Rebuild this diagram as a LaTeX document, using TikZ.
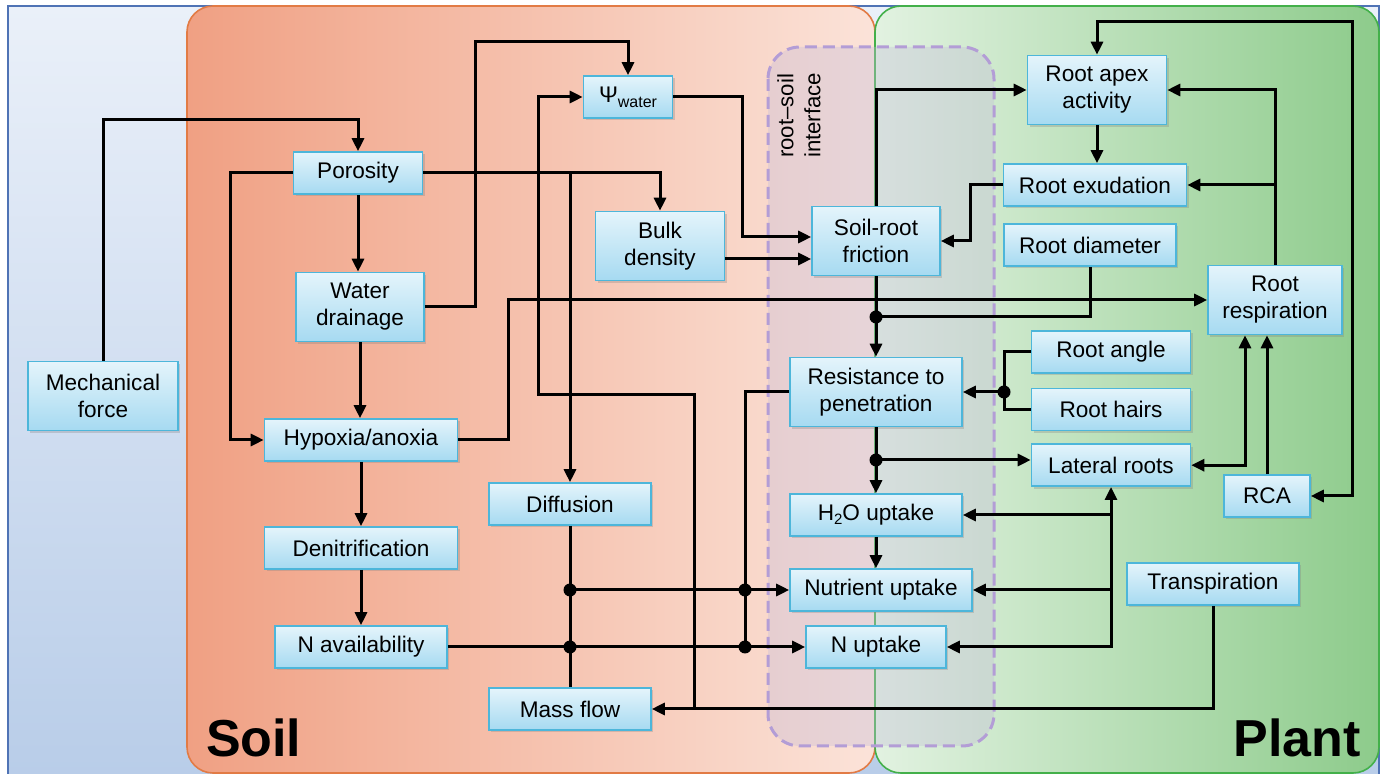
\documentclass[tikz,border=0pt]{standalone}
\usepackage{fontspec}
\setmainfont{Liberation Sans}
\usetikzlibrary{arrows.meta, positioning, shadows}
\definecolor{boxtop}{HTML}{E4F4FB}
\definecolor{boxbot}{HTML}{A6DAF1}
\definecolor{boxline}{HTML}{4DB6DA}
\definecolor{bgtop}{HTML}{EAF0F9}
\definecolor{bgbot}{HTML}{B7CCE8}
\definecolor{bgline}{HTML}{4F73B5}
\definecolor{soilleft}{HTML}{F0A083}
\definecolor{soilright}{HTML}{FBE3D9}
\definecolor{soilline}{HTML}{E27B45}
\definecolor{plantleft}{HTML}{E2F2E1}
\definecolor{plantright}{HTML}{8DCB8B}
\definecolor{plantline}{HTML}{43B04A}
\definecolor{ifacefill}{HTML}{C4BCDA}
\definecolor{ifaceline}{HTML}{B39DD6}

\begin{document}
\begin{tikzpicture}[x=0.5pt, y=-0.5pt,
    >={Triangle[length=6.5pt, width=6pt]},
    link/.style={line width=1.5pt},
    box/.style={shape=rectangle, draw=boxline, line width=0.8pt, top color=boxtop, bottom color=boxbot,
        inner sep=1pt, align=center, font=\fontsize{11.3}{13.5}\selectfont,
        drop shadow={shadow xshift=1.2pt, shadow yshift=-1.2pt, opacity=0.3}},
    one/.style={minimum height=21pt},
    two/.style={minimum height=34.5pt},
    jdot/.style={shape=circle, fill=black, inner sep=0pt, minimum size=6.5pt}]
    \clip (0,0) rectangle (1383,774);
    \path[draw=bgline, line width=0.8pt, top color=bgtop, bottom color=bgbot] (8,6) rectangle (1379,800);
    \path[draw=soilline, line width=0.8pt, left color=soilleft, right color=soilright, rounded corners=13pt] (187,6) rectangle (875,773);
    \path[draw=plantline, line width=0.8pt, left color=plantleft, right color=plantright, rounded corners=13pt] (875,6) rectangle (1379,773);
    \path[fill=ifacefill, fill opacity=0.35, draw=ifaceline, line width=1.5pt, dash pattern=on 6pt off 3pt, rounded corners=16pt] (768,47) rectangle (994,746);
    \node[rotate=90, anchor=west, align=left, font=\fontsize{11.1}{13.5}\selectfont] (iface) at (799,165) {root--soil\\interface};
    \node[font=\bfseries\fontsize{26}{30}\selectfont, anchor=base west] (soil) at (199,757) {Soil};
    \node[font=\bfseries\fontsize{26}{30}\selectfont, anchor=base east] (plant) at (1368,757) {Plant};

    \node[box, two, minimum width=75pt] (mech) at (103,396) {Mechanical\\force};
    \node[box, one, minimum width=64.5pt] (poro) at (358,173) {Porosity};
    \node[box, two, minimum width=64pt] (drain) at (360,307) {Water\\drainage};
    \node[box, one, minimum width=96.5pt] (hyp) at (361,440) {Hypoxia/anoxia};
    \node[box, one, minimum width=96.5pt] (denit) at (361,548) {Denitrification};
    \node[box, one, minimum width=86pt] (navail) at (361,647) {N availability};
    \node[box, one, minimum width=44.5pt] (psi) at (628,97) {Ψ\raisebox{-2.5pt}{\fontsize{8}{8}\selectfont water}};
    \node[box, two, minimum width=64.5pt] (bulk) at (660,246) {Bulk\\density};
    \node[box, one, minimum width=81pt] (diff) at (570,504) {Diffusion};
    \node[box, one, minimum width=81pt] (mass) at (570,709) {Mass flow};
    \node[box, two, minimum width=64pt] (fric) at (876,241) {Soil-root\\friction};
    \node[box, two, minimum width=86pt] (resist) at (876,392) {Resistance to\\penetration};
    \node[box, one, minimum width=86pt] (h2o) at (876,515) {H\raisebox{-2pt}{\fontsize{7.5}{8}\selectfont 2}O uptake};
    \node[box, one, minimum width=91pt] (nutr) at (881,590) {Nutrient uptake};
    \node[box, one, minimum width=70pt] (nupt) at (876,647) {N uptake};
    \node[box, two, minimum width=69.5pt] (apex) at (1097,90) {Root apex\\activity};
    \node[box, one, minimum width=91.5pt] (exud) at (1095,185) {Root exudation};
    \node[box, one, minimum width=86pt] (diam) at (1090,245) {Root diameter};
    \node[box, two, minimum width=67pt] (resp) at (1275,300) {Root\\respiration};
    \node[box, one, minimum width=79.5pt] (angle) at (1111,352) {Root angle};
    \node[box, one, minimum width=79.5pt, below=7pt of angle] (hairs) {Root hairs};
    \node[box, one, minimum width=79.5pt, below=6pt of hairs] (lat) {Lateral roots};
    \node[box, one, minimum width=43pt] (rca) at (1267,496) {RCA};
    \node[box, one, minimum width=86pt] (transp) at (1213,584) {Transpiration};

    \coordinate (mtop) at (103,120);
    \coordinate (pleft) at (230,173);
    \coordinate (dtop) at (475,42);
    \coordinate (hright) at (508,300);
    \coordinate (pbend) at (742,237);
    \coordinate (otop) at (1352,22);
    \coordinate (jdiam) at (876,317);
    \coordinate (jroot) at (1004,392);
    \coordinate (jlat) at (876,460);
    \coordinate (jd1) at (570,590);
    \coordinate (jd2) at (570,647);
    \coordinate (jr1) at (745,590);
    \coordinate (jr2) at (745,647);
    \coordinate (tj) at (694,709);
    \coordinate (pw) at (538,395);

    \draw[link, ->] (mech.north) -- (mtop) -| (poro.north);
    \draw[link, ->] (poro.south) -- (poro.south |- drain.north);
    \draw[link, ->] (poro.west) -- (pleft) |- (hyp.west);
    \draw[link, ->] (drain.south) -- (drain.south |- hyp.north);
    \path[link, ->] (hyp) edge (denit);
    \path[link, ->] (denit) edge (navail);
    \draw[link, ->] (drain.east) -| (dtop) -| (psi.north);
    \draw[link, ->] (poro.east) -| (bulk.north);
    \draw[link, ->] (diff.north |- poro.east) -- (diff.north);
    \draw[link, ->] (hyp.east) -| (hright) -- (resp.west);
    \draw[link, ->] (psi.east) -| (pbend) -- (pbend -| fric.west);
    \draw[link, ->] ([yshift=-6.5pt]bulk.east) coordinate (b1) -- (b1 -| fric.west);
    \draw[link, ->] (exud.west) -- ++(-16pt,0) |- (fric.east);
    \draw[link, ->] (fric.north) |- (apex.west);
    \path[link, ->] (fric) edge (resist);
    \draw[link] (diam.south) |- (jdiam);
    \draw[link, ->] (apex.south) -- (apex.south |- exud.north);
    \draw[link, ->] (resp.north) |- (apex.east);
    \draw[link, ->] (resp.north |- exud.east) -- (exud.east);
    \draw[link, <->] (apex.north) |- (otop) |- (rca.east);
    \draw[link] (angle.west) -| (jroot);
    \draw[link] (hairs.west) -| (jroot);
    \draw[link, ->] (jroot) -- (resist.east);
    \path[link, ->] (resist) edge (h2o);
    \draw[link, ->] (jlat) -- (jlat -| lat.west);
    \draw[link, ->] (h2o.south) -- (h2o.south |- nutr.north);
    \draw[link, <->] (lat.east) -| ([xshift=-15pt]resp.south);
    \draw[link, ->] (rca.north) -- (rca.north |- resp.south);
    \draw[link, <->] (lat.south) |- (nupt.east);
    \draw[link, ->] (lat.south |- h2o.east) -- (h2o.east);
    \draw[link, ->] (lat.south |- nutr.east) -- (nutr.east);
    \draw[link] (resist.west) -| (jr2);
    \path[link] (diff) edge (mass);
    \draw[link, ->] (jd1) -- (nutr.west);
    \draw[link, ->] (navail.east) -- (nupt.west);
    \draw[link, ->] (transp.south) |- (mass.east);
    \draw[link, ->] (tj) |- (pw) |- (psi.west);

    \foreach \j in {jdiam, jroot, jlat, jd1, jd2, jr1, jr2}
        \node[jdot] at (\j) {};
\end{tikzpicture}
\end{document}
